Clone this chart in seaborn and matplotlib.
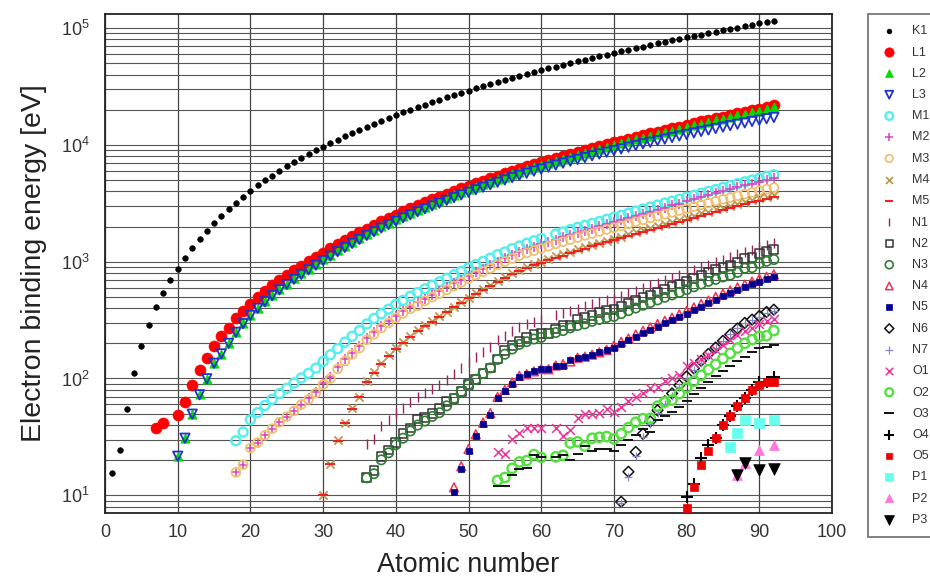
import numpy as np
import pandas as pd
import matplotlib
matplotlib.use("Agg")
import matplotlib.pyplot as plt
import seaborn as sns
from matplotlib.ticker import FixedLocator, FuncFormatter, LogLocator, NullFormatter, MultipleLocator

# ---------------- data (electron binding energies, eV) ----------------
K1_start = 1
K1 = [15.5, 24.6, 54.7, 111.5, 188, 284.2, 409.9, 543.1, 696.7, 870.2,
      1070.8, 1303.0, 1559.6, 1839, 2145.5, 2472, 2822.4, 3205.9, 3608.4, 4038.5,
      4492, 4966, 5465, 5989, 6539, 7112, 7709, 8333, 8979, 9659,
      10367, 11103, 11867, 12658, 13474, 14326, 15200, 16105, 17038, 17998,
      18986, 20000, 21044, 22117, 23220, 24350, 25514, 26711, 27940, 29200,
      30491, 31814, 33169, 34561, 35985, 37441, 38925, 40443, 41991, 43569,
      45184, 46834, 48519, 50239, 51996, 53789, 55618, 57486, 59390, 61332,
      63314, 65351, 67416, 69525, 71676, 73871, 76111, 78395, 80725, 83102,
      85530, 88005, 90526, 93105, 95730, 98404, 101137, 103922, 106755, 109651,
      112601, 115606]

L1_start = 7
L1 = [37.3, 41.6, None, 48.5, 63.5, 88.7, 117.8, 149.7, 189, 230.9, 270, 326.3, 378.6, 438.4,
      498, 560.9, 626.7, 696, 769.1, 844.6, 925.1, 1008.6, 1096.7, 1196.2,
      1299, 1414.6, 1527, 1652, 1782, 1921, 2065, 2216, 2373, 2532,
      2698, 2866, 3043, 3224, 3412, 3604, 3806, 4018, 4238, 4465,
      4698, 4939, 5188, 5453, 5714, 5989, 6266, 6549, 6835, 7126,
      7428, 7737, 8052, 8376, 8708, 9046, 9394, 9751, 10116, 10486,
      10870, 11271, 11682, 12100, 12527, 12968, 13419, 13880, 14353, 14839,
      15347, 15861, 16388, 16939, 17493, 18049, 18639, 19237, 19840, 20472,
      21105, 21757]

L2_start = 10
L2 = [21.7, 30.65, 49.78, 72.95, 99.82, 136, 163.6, 202, 250.6, 297.3,
      349.7, 403.6, 460.2, 519.8, 583.8, 649.9, 719.9, 793.2, 870, 952.3,
      1044.9, 1143.2, 1248.1, 1359.1, 1474.3, 1596, 1730.9, 1864, 2007, 2156,
      2307, 2465, 2625, 2793, 2967, 3146, 3330, 3524, 3727, 3938,
      4156, 4380, 4612, 4852, 5107, 5359, 5624, 5891, 6164, 6440,
      6722, 7013, 7312, 7617, 7930, 8252, 8581, 8918, 9264, 9617,
      9978, 10349, 10739, 11136, 11544, 11959, 12385, 12824, 13273, 13734,
      14209, 14698, 15200, 15711, 16244, 16785, 17337, 17907, 18484, 19083,
      19693, 20314, 20948]

L3_start = 10
L3 = [21.6, 30.81, 49.5, 72.55, 99.42, 135, 162.5, 200, 248.4, 294.6,
      346.2, 398.7, 453.8, 512.1, 574.1, 638.7, 706.8, 778.1, 852.7, 932.7,
      1021.8, 1116.4, 1217, 1323.6, 1433.9, 1550, 1678.4, 1804, 1940, 2080,
      2223, 2371, 2520, 2677, 2838, 3004, 3173, 3351, 3538, 3730,
      3929, 4132, 4341, 4557, 4786, 5012, 5247, 5483, 5723, 5964,
      6208, 6459, 6716, 6977, 7243, 7514, 7790, 8071, 8358, 8648,
      8944, 9244, 9561, 9881, 10207, 10535, 10871, 11215, 11564, 11919,
      12284, 12658, 13035, 13419, 13814, 14214, 14619, 15031, 15444, 15871,
      16300, 16733, 17166]

M1_start = 18
M1 = [29.3, 34.8, 44.3, 51.1, 58.7, 66.3, 74.1, 82.3, 91.3, 101,
      110.8, 122.5, 139.8, 159.5, 180.1, 204.7, 229.6, 257, 292.8, 326.7,
      358.7, 392, 430.3, 466.6, 506.3, 544, 586.1, 628.1, 671.6, 719,
      772, 827.2, 884.7, 946, 1006, 1072, 1148.7, 1211, 1293, 1362,
      1436, 1511, 1575, None, 1723, 1800, 1881, 1968, 2047, 2128,
      2207, 2307, 2398, 2491, 2601, 2708, 2820, 2932, 3049, 3174,
      3296, 3425, 3562, 3704, 3851, 3999, 4149, 4317, 4482, 4652,
      4822, 5002, 5182, 5367, 5548]

M2_start = 18
M2 = [15.9, 18.3, 25.4, 28.3, 32.6, 37.2, 42.2, 47.2, 52.7, 58.9,
      68, 77.3, 91.4, 103.5, 124.9, 146.2, 166.5, 189, 222.2, 248.7,
      280.3, 310.6, 343.5, 376.1, 411.6, 447.6, 483.5, 521.3, 559.9, 603.8,
      652.6, 703.2, 756.5, 812.7, 870.8, 931, 1002.1, 1071, 1137, 1209,
      1274, 1337, 1403, 1471, 1541, 1614, 1688, 1768, 1842, 1923,
      2006, 2090, 2173, 2264, 2365, 2469, 2575, 2682, 2792, 2909,
      3027, 3148, 3279, 3416, 3554, 3696, 3854, 4008, 4159, 4327,
      4490, 4656, 4830, 5001, 5182]

M3_start = 18
M3 = [15.7, 18.3, 25.4, 28.3, 32.6, 37.2, 42.2, 47.2, 52.7, 59.9,
      66.2, 75.1, 88.6, 100, 120.8, 141.2, 160.7, 182, 214.4, 239.1,
      270, 298.8, 329.8, 360.6, 394, 417.7, 461.4, 496.5, 532.3, 573,
      618.4, 665.3, 714.6, 766.4, 820.8, 875, 940.6, 1003, 1063, 1128,
      1187, 1242, 1297, 1357, 1420, 1481, 1544, 1611, 1676, 1741,
      1812, 1885, 1950, 2024, 2108, 2194, 2281, 2367, 2457, 2551,
      2645, 2743, 2847, 2957, 3066, 3177, 3302, 3426, 3538, 3663,
      3792, 3909, 4046, 4174, 4303]

M4_start = 30
M4 = [10.1, 18.7, 29.8, 41.7, 55.5, 70, 95, 113, 136, 157.7,
      181.1, 205, 231.1, 257.6, 284.2, 311.9, 340.5, 374, 411.9, 451.4,
      493.2, 537.5, 583.4, 630.8, 689, 740.5, 795.7, 853, 902.4, 948.3,
      1003.3, 1052, 1110.9, 1158.6, 1221.9, 1276.9, 1333, 1392, 1453, 1515,
      1576, 1639, 1716, 1793, 1872, 1949, 2031, 2116, 2202, 2291,
      2385, 2485, 2586, 2688, 2798, 2909, 3022, 3136, 3248, 3370,
      3491, 3611, 3728]

M5_start = 30
M5 = [10.1, 18.7, 29.2, 41.7, 54.6, 69, 93.8, 112, 134.2, 155.8,
      178.8, 202.3, 227.9, 253.9, 280, 307.2, 335.2, 368.3, 405.2, 443.9,
      484.9, 528.2, 573, 619.3, 676.4, 726.6, 780.5, 836, 883.8, 928.8,
      980.4, 1027, 1083.4, 1127.5, 1189.6, 1241.1, 1292.6, 1351, 1409, 1468,
      1528, 1589, 1662, 1735, 1809, 1883, 1960, 2040, 2122, 2206,
      2295, 2389, 2484, 2580, 2683, 2787, 2892, 3000, 3105, 3219,
      3332, 3442, 3552]

N1_start = 36
N1 = [27.5, 30.5, 38.9, 43.8,
      50.6, 56.4, 63.2, 69.5, 75, 81.4, 87.1, 97, 109.8, 122.9,
      137.1, 153.2, 169.4, 186, 213.2, 232.3, 253.5, 274.7, 291, 304.5,
      319.2, None, 347.2, 360, 378.6, 396, 414.2, 432.4, 449.8, 470.9,
      480.5, 506.8, 538, 563.4, 594.1, 625.4, 658.2, 691.1, 725.4, 762.1,
      802.2, 846.2, 891.8, 939, 995, 1042, 1097, 1153, 1208, 1269,
      1330, 1387, 1439]

N2_start = 36
N2 = [14.1, 16.3, 21.6, 24.4,
      28.5, 33.6, 37.6, 45, 46.3, 50.5, 55.7, 63.7, 67.5, 77.3,
      88.6, 98.4, 110.2, 123, 146.7, 172.4, 192, 205.8, 223.2, 236.3,
      243.3, 242, 265.6, 284, 286, 322.4, 333.5, 343.5, 366.2, 385.9,
      388.7, 412.4, 438.2, 463.4, 490.4, 518.7, 549.1, 577.8, 609.1, 642.7,
      680.2, 720.5, 761.9, 805.2, 851, 886, 929, 980, 1058, 1080,
      1168, 1224, 1271]

N3_start = 36
N3 = [14.1, 15.3, 20.1, 23.1,
      27.1, 30.8, 35.5, 39.9, 43.2, 47.3, 50.9, 58.3, 67.5, 77.3,
      88.6, 98.4, 110.2, 123, 145.5, 161.3, 178.6, 196, 206.5, 217.6,
      224.6, 242, 247.4, 257, 271, 284.1, 293.2, 308.2, 320.2, 332.6,
      339.7, 359.2, 380.7, 400.9, 423.6, 446.8, 470.7, 495.8, 519.4, 546.3,
      576.6, 609.5, 643.5, 678.8, 705, 740, 768, 810, 879, 890,
      966.4, 1007, 1043]

N4_start = 48
N4 = [11.7, 17.7,
      24.9, 33.3, 41.9, 50.6, 69.5, 79.8, 92.6, 105.3, 109, 115.1,
      120.5, 120, 129, 133, 140, 150.5, 153.6, 160, 167.6, 175.5,
      191.2, 206.1, 220, 237.9, 255.9, 273.9, 293.1, 311.9, 331.6, 353.2,
      378.2, 405.7, 434.3, 464, 500, 533, 567, 603, 636, 675,
      712.1, 743, 778.3]

N5_start = 48
N5 = [10.7, 16.9,
      23.9, 32.1, 40.4, 48.9, 67.5, 77.5, 89.9, 102.5, 109, 115.1,
      120.5, 120, 129, 127.7, 142.6, 150.5, 153.6, 160, 167.6, 175.5,
      182.4, 196.3, 211.5, 226.4, 243.5, 260.5, 278.5, 296.3, 314.6, 335.1,
      358.8, 385, 412.2, 440.1, 473, 507, 541, 577, 603, 639,
      675.2, 708, 736.2]

N6_start = 71
N6 = [8.8, 15.9, 23.5, 33.6, 42.9, 53.4, 63.8, 74.5, 87.6,
      104, 122.2, 141.7, 162.3, 184, 210, 238, 268, 299, 319,
      342.4, 371, 388.2]

N7_start = 71
N7 = [8.6, 14.2, 21.6, 31.4, 40.5, 50.7, 60.8, 71.2, 84,
      99.9, 117.8, 136.9, 157, 184, 210, 238, 268, 299, 319,
      333.1, 360, 377.4]

O1_start = 54
O1 = [23.3, 22.7, 30.3, 34.3, 37.8, 37.4,
      37.5, None, 37.4, 32, 36, 45.6, 49.9, 49.3, 50.6, 54.7,
      52, 57.3, 64.2, 69.7, 75.6, 83, 84, 95.2, 101.7, 107.2,
      127, 136, 147, 159.3, 177, 195, 214, 234, 254, 272,
      290, 310, 321]

O2_start = 54
O2 = [13.4, 14.2, 17, 19.3, 19.8, 22.3,
      21.1, None, 21.3, 22, 28, 28.7, 26.3, 30.8, 31.4, 31.8,
      30.3, 33.6, 38, 42.2, 45.3, 45.6, 58, 63, 65.3, 74.2,
      83.1, 94.6, 106.4, 119, 132, 148, 164, 182, 200, 215,
      229, 232, 257]

O3_start = 54
O3 = [12.1, 12.1, 14.8, 16.8, 17, 22.3,
      21.1, None, 21.3, 22, 20, 22.6, 26.3, 24.1, 24.7, 25,
      24.1, 26.7, 29.9, 32.7, 36.8, 34.6, 44.5, 48, 51.7, 57.2,
      64.5, 73.5, 83.3, 92.6, 104, 115, 127, 140, 153, 167,
      182, 187, 192]

O4_start = 80
O4 = [9.6, 12.5, 20.7, 26.9, 31, 40, 48, 58, 68, 80, 94.1, 94, 102.8]

O5_start = 80
O5 = [7.8, 11.8, 18.1, 23.8, 31, 40, 48, 58, 68, 80, 87.9, 94, 94.2]

P1_Z = [86, 87, 88, 90, 92]
P1 = [26, 34, 44, 41.4, 43.9]
P2_Z = [87, 88, 90, 92]
P2 = [15, 19, 24.5, 26.8]
P3_Z = [87, 88, 90, 92]
P3 = [15, 19, 16.6, 16.8]

legend_labels = ["K1", "L1", "L2", "L3", "M1", "M2", "M3", "M4", "M5",
                 "N1", "N2", "N3", "N4", "N5", "N6", "N7",
                 "O1", "O2", "O3", "O4", "O5", "P1", "P2", "P3"]


def seq(start, vals):
    z = np.arange(start, start + len(vals))
    return z, vals


series_data = [
    seq(K1_start, K1), seq(L1_start, L1), seq(L2_start, L2), seq(L3_start, L3),
    seq(M1_start, M1), seq(M2_start, M2), seq(M3_start, M3), seq(M4_start, M4),
    seq(M5_start, M5), seq(N1_start, N1), seq(N2_start, N2), seq(N3_start, N3),
    seq(N4_start, N4), seq(N5_start, N5), seq(N6_start, N6), seq(N7_start, N7),
    seq(O1_start, O1), seq(O2_start, O2), seq(O3_start, O3), seq(O4_start, O4),
    seq(O5_start, O5), (np.array(P1_Z), P1), (np.array(P2_Z), P2), (np.array(P3_Z), P3),
]

# ---------------- styles ----------------
# (marker, size, face, edge, linewidth)
styles = [
    ("o", 16, "black", "black", 0.5),        # K1
    ("o", 62, "#ff0000", "#ff0000", 0.5),    # L1
    ("^", 45, "#00dd00", "#00dd00", 0.5),    # L2
    ("v", 45, "none", "#2233cc", 1.3),       # L3
    ("o", 42, "none", "#55eeee", 1.7),       # M1
    ("+", 45, None, "#e040c0", 1.1),         # M2
    ("o", 40, "none", "#f0c070", 1.3),       # M3
    ("x", 35, None, "#c09850", 1.3),         # M4
    ("_", 45, None, "#ee2222", 1.5),         # M5
    ("|", 50, None, "#a02060", 1.0),         # N1
    ("s", 40, "none", "#333333", 1.1),       # N2
    ("o", 45, "none", "#2e7d32", 1.2),       # N3
    ("^", 40, "none", "#ee3355", 1.1),       # N4
    ("s", 18, "#000090", "#000090", 0.5),    # N5
    ("D", 30, "none", "#111111", 1.1),       # N6
    ("+", 40, None, "#8888cc", 0.9),         # N7
    ("x", 40, None, "#ee3399", 1.1),         # O1
    ("o", 45, "none", "#55e040", 1.7),       # O2
    ("_", 60, None, "#111111", 1.4),         # O3
    ("+", 80, None, "#000000", 1.5),         # O4
    ("s", 35, "#ee0000", "#ee0000", 0.5),    # O5
    ("s", 50, "#66ffee", "#66ffee", 0.5),    # P1
    ("^", 50, "#ff77dd", "#ff77dd", 0.5),    # P2
    ("v", 70, "#000000", "#000000", 0.5),    # P3
]

sns.set_style("white")
plt.rcParams["font.family"] = ["Liberation Sans", "DejaVu Sans"]
plt.rcParams["mathtext.fontset"] = "custom"
plt.rcParams["mathtext.rm"] = "Liberation Sans"
plt.rcParams["mathtext.it"] = "Liberation Sans"

W, H = 930, 579
fig = plt.figure(figsize=(W / 100, H / 100), dpi=100)
ax = fig.add_axes([105 / W, 1 - 513 / H, (832 - 105) / W, (513 - 14) / H])
ax.set_yscale("log")

for (z, vals), lab, (mk, s, fc, ec, lw) in zip(series_data, legend_labels, styles):
    df = pd.DataFrame({"Z": z, "E": pd.array(vals, dtype="Float64")}).dropna()
    df["E"] = df["E"].astype(float)
    kws = dict(marker=mk, s=s, linewidth=lw, label=lab, legend=False, ax=ax, zorder=3)
    kws["color"] = ec
    if fc is not None:
        kws["facecolor"] = fc
        kws["edgecolor"] = ec
    sns.scatterplot(data=df, x="Z", y="E", **kws)

ax.set_xlim(0, 100)
ax.set_ylim(7.05, 1.32e5)
ax.xaxis.set_major_locator(MultipleLocator(10))
ax.yaxis.set_major_locator(FixedLocator([10, 100, 1000, 10000, 100000]))
ax.yaxis.set_minor_locator(LogLocator(base=10, subs=np.arange(2, 10)))
ax.yaxis.set_minor_formatter(NullFormatter())
ax.yaxis.set_major_formatter(FuncFormatter(lambda v, p: r"$\mathregular{10^{%d}}$" % round(np.log10(v))))

ax.grid(True, which="major", axis="x", color="#444444", lw=0.9, zorder=0)
ax.grid(True, which="both", axis="y", color="#555555", lw=0.8, zorder=0)
ax.set_axisbelow(True)
for sp in ax.spines.values():
    sp.set_color("#222222")
    sp.set_linewidth(1.3)

ax.tick_params(axis="x", which="both", length=0, pad=8, labelsize=13, labelcolor="#333333")
ax.tick_params(axis="y", which="both", length=0, pad=11, labelsize=13, labelcolor="#333333")

ax.set_xlabel("Atomic number", fontsize=19.5, color="#222222", labelpad=8)
ax.set_ylabel("Electron binding energy [eV]", fontsize=20.5, color="#222222", labelpad=10)

handles, labels = ax.get_legend_handles_labels()
leg = fig.legend(handles, labels, loc="upper left",
                 bbox_to_anchor=(868 / W, 1 - 14 / H), bbox_transform=fig.transFigure,
                 fontsize=9, frameon=True, fancybox=False, framealpha=1,
                 edgecolor="#777777", borderaxespad=0, borderpad=0.9,
                 labelspacing=0.74, handlelength=1.6, handletextpad=1.04,
                 markerscale=0.85)
leg.get_frame().set_linewidth(1.3)
for t in leg.get_texts():
    t.set_color("#333333")

fig.savefig("out.png", dpi=100)
